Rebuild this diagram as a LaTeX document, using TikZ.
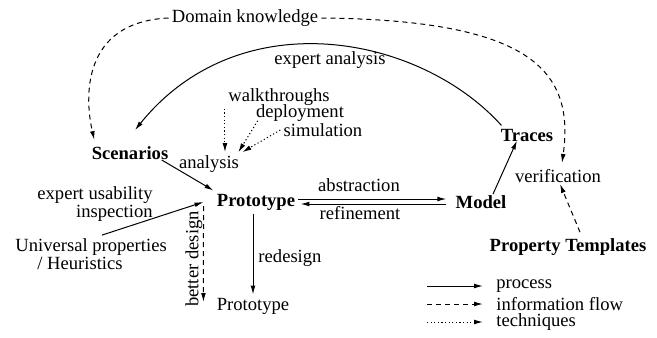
\documentclass[tikz,border=0pt]{standalone}
\usepackage{fontspec}
\setmainfont{Liberation Serif}
\usetikzlibrary{arrows.meta,positioning,calc}

\begin{document}
\begin{tikzpicture}[x=0.5pt,y=-0.5pt,
  every node/.style={inner sep=1.5pt,font=\fontsize{9.3}{11}\selectfont},
  mainnode/.style={font=\fontsize{9.3}{11}\selectfont\bfseries},
  proc/.style={-{Latex[length=4.5pt,width=2.4pt]},line width=0.5pt},
  info/.style={proc,dash pattern=on 2.5pt off 2pt},
  tech/.style={proc,dash pattern=on 0.6pt off 1.2pt}]
\useasboundingbox (0,0) rectangle (657,337);
\node (dk) at (245,18) {Domain knowledge};
\node[mainnode] (scen) at (130,153) {Scenarios};
\node[mainnode] (traces) at (527,135) {Traces};
\node (expana) at (330,60) {expert analysis};
\node (walk) at (279,97) {walkthroughs};
\node (deploy) at (300,113) {deployment};
\node (sim) at (323,130) {simulation};
\node (ana) at (209,164) {analysis};
\node[mainnode] (proto) at (256,202) {Prototype};
\node[align=right,anchor=east] (eui) at (156,204) {expert usability\\[-2pt]inspection};
\node[align=left,anchor=west] (univ) at (12,254) {Universal properties\\[-2pt]\hspace*{11pt}/ Heuristics};
\node[rotate=90] (better) at (194,259) {better design};
\node (redes) at (290,258) {redesign};
\node (proto2) at (253,306) {Prototype};
\node (abs) at (359,185) {abstraction};
\node (ref) at (360,213) {refinement};
\node[mainnode] (model) at (481,202) {Model};
\node (verif) at (558,176) {verification};
\node[mainnode] (prop) at (568,247) {Property Templates};
\draw[info] (dk.west) .. controls (80,22) and (85,100) .. ($(scen.north west)+(6,-3)$);
\draw[info] (dk.east) .. controls (530,20) and (575,70) .. ($(verif.north)+(4,-3)$);
\draw[proc] ($(traces.north west)+(4,0)$) .. controls (420,35) and (240,0) .. ($(scen.north)+(5,-13)$);
\draw[tech] (walk.south west) -- (walk.south west |- ana.north);
\draw[tech] ($(deploy.south west)+(5,-4)$) -- ($(ana.north east)+(-4,0)$);
\draw[tech] (sim.west) -- (ana.north east);
\draw[proc] ($(scen.south east)+(-10,-3)$) -- (proto.north west);
\draw[proc] ($(univ.north)+(11,0)$) -- ($(proto.west)+(-10,0)$);
\draw[info] ($(proto.west)+(-10,4)$) -- ($(proto2.west)+(-10,-4)$);
\draw[proc] (proto2.north |- proto.south) -- (proto2.north);
\draw[proc] ($(proto.east)+(0,-3)$) -- ($(model.west)+(-6,-3)$);
\draw[proc] ($(model.west)+(-6,2)$) -- ($(proto.east)+(2,2)$);
\draw[proc] ($(model.north)+(12,2)$) -- ($(traces.south)+(-10,-4)$);
\draw[info] ($(prop.north)+(12,-3)$) -- ($(verif.south)+(2,-2)$);
\coordinate (p1) at (427,286);
\coordinate (p2) at (483,286);
\coordinate (i1) at (427,304);
\coordinate (i2) at (483,304);
\coordinate (t1) at (427,322);
\coordinate (t2) at (483,322);
\node[anchor=west,inner sep=0pt] (lproc) at (496,286) {process};
\node[anchor=west,inner sep=0pt] (linfo) at (496,304) {information flow};
\node[anchor=west,inner sep=0pt] (ltech) at (496,322) {techniques};
\draw[proc] (p1) -- (p2);
\draw[info] (i1) -- (i2);
\draw[tech] (t1) -- (t2);
\end{tikzpicture}
\end{document}
